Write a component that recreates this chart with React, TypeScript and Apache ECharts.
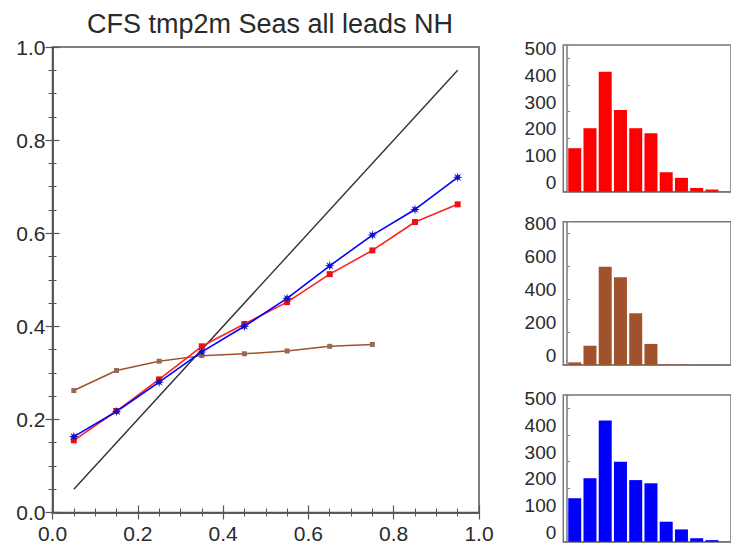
import React, { useEffect, useRef } from "react";
import * as echarts from "echarts";

// Reliability diagram data (forecast probability bin centres)
const probX = [0.05, 0.15, 0.25, 0.35, 0.45, 0.55, 0.65, 0.75, 0.85, 0.95];
const blueObs = [0.163, 0.217, 0.28, 0.345, 0.4, 0.46, 0.53, 0.596, 0.651, 0.72];
const redObs = [0.155, 0.218, 0.286, 0.357, 0.405, 0.452, 0.512, 0.563, 0.624, 0.662];
const brownX = [0.05, 0.15, 0.25, 0.35, 0.45, 0.55, 0.65, 0.75];
const brownObs = [0.262, 0.305, 0.325, 0.337, 0.341, 0.347, 0.357, 0.361];
const diagX = [0.05, 0.95];
const diagY = [0.05, 0.95];
const mainTicks = ["0.0", "0.2", "0.4", "0.6", "0.8", "1.0"];

// Histogram counts
const redCounts = [163, 238, 450, 306, 238, 219, 73, 52, 14, 8];
const brownCounts = [16, 117, 597, 532, 314, 128, 3, 2, 1, 1];
const blueCounts = [163, 238, 454, 300, 231, 219, 75, 46, 13, 6];

const TITLE = "CFS tmp2m Seas all leads NH";
const FONT = "Liberation Sans, Arial, Helvetica, sans-serif";
const TXT = "#2a2a2a";
const AX = "#555";

const STAR =
  "path://M10,0 L3.7,1.53 L7.07,7.07 L1.53,3.7 L0,10 L-1.53,3.7 L-7.07,7.07 L-3.7,1.53 L-10,0 L-3.7,-1.53 L-7.07,-7.07 L-1.53,-3.7 L0,-10 L1.53,-3.7 L7.07,-7.07 L3.7,-1.53 Z";

export default function App() {
  const ref = useRef<HTMLDivElement>(null);
  useEffect(() => {
    if (!ref.current) return;
    const chart = echarts.init(ref.current, undefined, { renderer: "svg" });

    const zip = (xs: number[], ys: number[]) => xs.map((x, i) => [x, ys[i]]);

    const histGrids = [
      { left: 563.3, top: 45, width: 175, height: 146.7 },
      { left: 563.3, top: 221.7, width: 175, height: 143.3 },
      { left: 563.3, top: 395, width: 175, height: 146.7 },
    ];
    const histMax = [550, 870, 550];
    const histInt = [100, 200, 100];
    const histData = [redCounts, brownCounts, blueCounts];
    const histColor = ["#ff0000", "#a0522d", "#0000ff"];

    const grids: any[] = [
      {
        left: 52.5,
        top: 47,
        width: 426.5,
        height: 465.5,
        show: true,
        borderColor: AX,
        borderWidth: 1.5,
        backgroundColor: "transparent",
      },
      ...histGrids.map((g) => ({
        ...g,
        show: true,
        borderColor: "#777",
        borderWidth: 1.5,
        backgroundColor: "transparent",
      })),
    ];

    const mainAxisCommon = {
      type: "value",
      min: 0,
      max: 1,
      interval: 0.2,
      gridIndex: 0,
      axisLine: { show: true, lineStyle: { color: AX, width: 1.5 } },
      axisTick: { show: true, inside: true, length: 7, lineStyle: { color: AX, width: 1.2 } },
      minorTick: { show: true, splitNumber: 4, length: 4, lineStyle: { color: AX, width: 1 } },
      splitLine: { show: false },
      minorSplitLine: { show: false },
    };

    const xAxes: any[] = [
      {
        ...mainAxisCommon,
        position: "bottom",
        axisLabel: {
          show: true,
          color: TXT,
          fontSize: 21,
          fontFamily: FONT,
          margin: 10,
          formatter: (v: number) => mainTicks[Math.round(v / 0.2)] ?? "",
        },
      },
      { ...mainAxisCommon, position: "top", axisLabel: { show: false } },
      ...histGrids.map((_, i) => ({
        type: "value",
        gridIndex: i + 1,
        min: -0.025,
        max: 1.075,
        axisLine: { show: true, lineStyle: { color: "#777", width: 1.5 } },
        axisTick: { show: false },
        axisLabel: { show: false },
        splitLine: { show: false },
      })),
    ];

    const yAxes: any[] = [
      {
        ...mainAxisCommon,
        position: "left",
        axisLabel: {
          show: true,
          color: TXT,
          fontSize: 21,
          fontFamily: FONT,
          margin: 7,
          formatter: (v: number) => mainTicks[Math.round(v / 0.2)] ?? "",
        },
      },
      { ...mainAxisCommon, position: "right", axisLabel: { show: false } },
      ...histGrids.map((_, i) => ({
        type: "value",
        gridIndex: i + 1,
        min: 0,
        max: histMax[i],
        interval: histInt[i],
        position: "left",
        axisLine: { show: true, lineStyle: { color: "#777", width: 1.5 } },
        axisTick: { show: true, inside: true, length: 3, lineStyle: { color: "#888" } },
        splitLine: { show: false },
        axisLabel: {
          show: true,
          color: TXT,
          fontSize: 19,
          fontFamily: FONT,
          margin: 7,
          verticalAlign: "bottom",
          formatter: (v: number) => (v % histInt[i] === 0 ? String(v) : ""),
        },
      })),
    ];

    const series: any[] = [
      {
        type: "line",
        xAxisIndex: 0,
        yAxisIndex: 0,
        data: zip(diagX, diagY),
        symbol: "none",
        lineStyle: { color: "#333", width: 1.4 },
      },
      {
        type: "line",
        xAxisIndex: 0,
        yAxisIndex: 0,
        data: zip(brownX, brownObs),
        symbol: "rect",
        symbolSize: 5,
        itemStyle: { color: "#9a6a55" },
        lineStyle: { color: "#a0522d", width: 1.5 },
      },
      {
        type: "line",
        xAxisIndex: 0,
        yAxisIndex: 0,
        data: zip(probX, redObs),
        symbol: "rect",
        symbolSize: 6,
        itemStyle: { color: "#ee1111" },
        lineStyle: { color: "#ff2020", width: 1.6 },
      },
      {
        type: "line",
        xAxisIndex: 0,
        yAxisIndex: 0,
        data: zip(probX, blueObs),
        symbol: STAR,
        symbolSize: 10,
        itemStyle: { color: "#1010c0" },
        lineStyle: { color: "#0000ff", width: 1.6 },
      },
      ...histData.map((d, i) => ({
        type: "bar",
        xAxisIndex: i + 2,
        yAxisIndex: i + 2,
        data: zip(probX, d),
        barWidth: 13,
        itemStyle: { color: histColor[i] },
      })),
    ];

    chart.setOption({
      animation: false,
      backgroundColor: "#fff",
      title: {
        text: TITLE,
        left: 265,
        top: 5,
        textAlign: "center",
        textStyle: { fontSize: 27, fontWeight: "normal", color: TXT, fontFamily: FONT },
      },
      grid: grids,
      xAxis: xAxes,
      yAxis: yAxes,
      series,
    });
    return () => chart.dispose();
  }, []);

  return (
    <div
      ref={ref}
      style={{ position: "absolute", left: 0, top: 0, width: 731, height: 548, overflow: "hidden" }}
    />
  );
}
